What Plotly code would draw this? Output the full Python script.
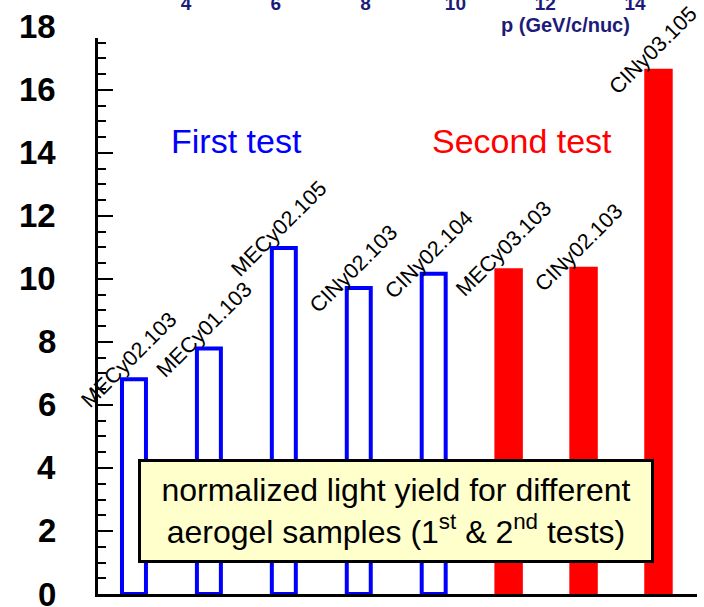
import plotly.graph_objects as go

# ---------------- data ----------------
samples = ["MECy02.103", "MECy01.103", "MECy02.105", "CINy02.103", "CINy02.104",
           "MECy03.103", "CINy02.103", "CINy03.105"]
first_test_values = [6.82, 7.79, 10.98, 9.71, 10.17]
second_test_values = [10.34, 10.39, 16.67]
y_tick_values = [0, 2, 4, 6, 8, 10, 12, 14, 16, 18]
y_tick_labels = ["0", "2", "4", "6", "8", "10", "12", "14", "16", "18"]
p_tick_values = [4, 6, 8, 10, 12, 14]
p_tick_labels = ["4", "6", "8", "10", "12", "14"]
p_axis_title = "p (GeV/c/nuc)"
group_labels = ["First test", "Second test"]
box_text = "normalized light yield for different<br>aerogel samples (1<sup>st</sup> &amp; 2<sup>nd</sup> tests)"

positions = list(range(1, len(samples) + 1))
n_first = len(first_test_values)
first_pos = positions[:n_first]
second_pos = positions[n_first:]

Y_RANGE = [0, 17.65]
FONT = "Liberation Sans, Arial, sans-serif"
NAVY = "#1c1c78"

fig = go.Figure()
fig.add_trace(go.Bar(
    x=first_pos, y=first_test_values, width=0.32,
    marker=dict(color="white", line=dict(color="#0000ff", width=4)),
    showlegend=False, hoverinfo="x+y"))
fig.add_trace(go.Bar(
    x=second_pos, y=second_test_values, width=0.38,
    marker=dict(color="#ff0000", line=dict(width=0)),
    showlegend=False, hoverinfo="x+y"))
# invisible trace to carry the top momentum axis
fig.add_trace(go.Scatter(
    x=p_tick_values, y=[0] * len(p_tick_values), xaxis="x2", mode="markers",
    marker=dict(opacity=0), hoverinfo="skip", showlegend=False))

annotations = []
# y tick labels (paper position from the y scale so the 18 above the axis end is kept)
for v, lab in zip(y_tick_values, y_tick_labels):
    annotations.append(dict(
        x=0, xref="paper", xshift=-40, xanchor="right",
        y=(v - Y_RANGE[0]) / (Y_RANGE[1] - Y_RANGE[0]), yref="paper", yanchor="middle",
        text=lab, showarrow=False,
        font=dict(family=FONT, size=33, color="black", weight="bold")))
# rotated sample labels
all_values = first_test_values + second_test_values
for pos, val, name in zip(positions, all_values, samples):
    annotations.append(dict(
        x=pos, xref="x", y=val, yref="y", text=name, showarrow=False,
        textangle=-45, xanchor="center", yanchor="middle", xshift=-5, yshift=19,
        font=dict(family=FONT, size=21.5, color="black")))
# group labels
annotations.append(dict(x=0.2312, y=0.815, xref="paper", yref="paper", text=group_labels[0],
                        showarrow=False, xanchor="center", yanchor="middle",
                        font=dict(family=FONT, size=34, color="#0000ff")))
annotations.append(dict(x=0.708, y=0.815, xref="paper", yref="paper", text=group_labels[1],
                        showarrow=False, xanchor="center", yanchor="middle",
                        font=dict(family=FONT, size=34, color="#ff0000")))
# top axis title
annotations.append(dict(x=0.7805, y=1.0234, xref="paper", yref="paper", text=p_axis_title,
                        showarrow=False, xanchor="center", yanchor="middle",
                        font=dict(family=FONT, size=20, color=NAVY, weight="bold")))
# caption box
annotations.append(dict(x=0.4967, y=0.1484, xref="paper", yref="paper", text=box_text,
                        showarrow=False, xanchor="center", yanchor="middle",
                        align="center", valign="middle", width=510, height=98,
                        bgcolor="#ffffcc", bordercolor="black", borderwidth=3, borderpad=0,
                        font=dict(family=FONT, size=32, color="black")))

fig.update_layout(
    width=704, height=607,
    margin=dict(l=98, r=7, t=38, b=13, autoexpand=False),
    paper_bgcolor="white", plot_bgcolor="white",
    barmode="overlay", showlegend=False,
    xaxis=dict(range=[0.52, 8.514], showline=True, linewidth=3, linecolor="black",
               ticks="", showticklabels=False, showgrid=False, zeroline=False,
               automargin=False),
    xaxis2=dict(range=[2.040, 15.381], overlaying="x", side="top", anchor="y",
                tickmode="array", tickvals=p_tick_values, ticktext=p_tick_labels,
                ticks="", ticklabelstandoff=23, showline=False, showgrid=False, zeroline=False,
                automargin=False,
                tickfont=dict(family=FONT, size=19, color=NAVY, weight="bold")),
    yaxis=dict(range=Y_RANGE, showline=True, linewidth=3, linecolor="black",
               ticks="inside", ticklen=15, tickwidth=2, tickcolor="black",
               tick0=0, dtick=2, showticklabels=False, showgrid=False, zeroline=False,
               automargin=False,
               minor=dict(ticks="inside", ticklen=8, tickwidth=2, tickcolor="black",
                          tick0=0, dtick=0.5, showgrid=False)),
    annotations=annotations,
)

fig.write_html("out.html", config={"displayModeBar": False},
               post_script="document.body.style.margin='0';")
